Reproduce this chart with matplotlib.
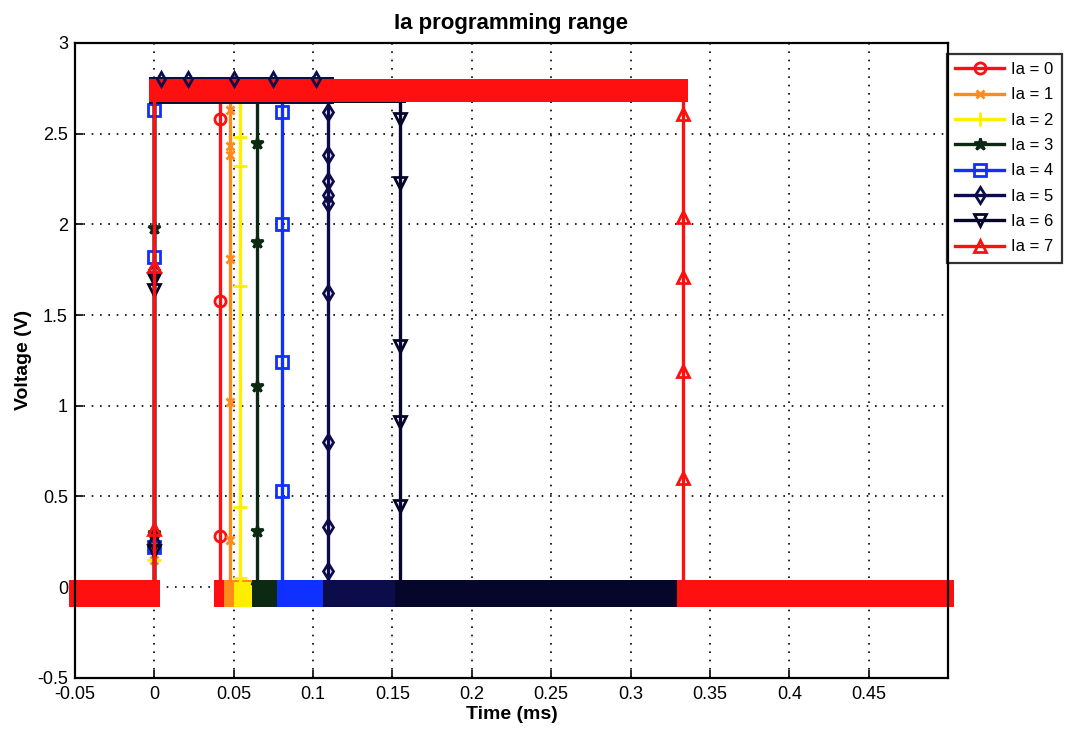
import matplotlib
matplotlib.use("Agg")
import matplotlib.pyplot as plt
import numpy as np

# ---------------- data ----------------
labels = ["Ia = 0", "Ia = 1", "Ia = 2", "Ia = 3", "Ia = 4", "Ia = 5", "Ia = 6", "Ia = 7"]
t_start = -0.05
t_end = 0.5
t_rise = 0.0
t_fall = [0.0413, 0.0475, 0.054, 0.065, 0.0805, 0.1095, 0.155, 0.333]
v_low = -0.035
v_high = 2.735
# noise band extents (V) for the low and high states, per series
low_band_lo = [-0.11, -0.11, -0.11, -0.11, -0.11, -0.11, -0.11, -0.11]
low_band_hi = [0.04, 0.04, 0.03, 0.04, 0.04, 0.04, 0.04, 0.04]
high_band_lo = [2.67, 2.67, 2.67, 2.665, 2.67, 2.665, 2.67, 2.675]
high_band_hi = [2.80, 2.80, 2.80, 2.805, 2.80, 2.81, 2.80, 2.80]
# marker samples on the rising edge (t = 0) and the falling edge
rise_marks = [
    [1.74],
    [0.15],
    [0.15],
    [1.98, 0.30],
    [2.63, 1.82, 0.22],
    [1.75, 0.25],
    [1.70, 1.64, 0.20],
    [1.77, 0.32],
]
fall_marks = [
    [2.58, 1.58, 0.28],
    [2.63, 2.43, 2.38, 1.81, 1.02, 0.26],
    [2.48, 2.32, 1.66, 0.44, 0.05],
    [2.45, 1.90, 1.11, 0.31, 0.01],
    [2.62, 2.00, 1.24, 0.53],
    [2.62, 2.38, 2.24, 2.16, 2.12, 1.62, 0.80, 0.33, 0.09],
    [2.58, 2.23, 1.33, 0.91, 0.45],
    [2.61, 2.04, 1.71, 1.19, 0.60],
]
# a few spikes visible above the high band (series Ia = 5)
spike_t = [0.004, 0.021, 0.05, 0.075, 0.102]
spike_v = [2.80, 2.80, 2.80, 2.80, 2.80]

xticks = [-0.05, 0, 0.05, 0.1, 0.15, 0.2, 0.25, 0.3, 0.35, 0.4, 0.45]
xtick_labels = ["-0.05", "0", "0.05", "0.1", "0.15", "0.2", "0.25", "0.3", "0.35", "0.4", "0.45"]
yticks = [-0.5, 0, 0.5, 1, 1.5, 2, 2.5, 3]
ytick_labels = ["-0.5", "0", "0.5", "1", "1.5", "2", "2.5", "3"]

# ---------------- styles ----------------
colors = ["#ff1010", "#ff8c1a", "#ffee00", "#0c2a12", "#1030ff", "#0c0c4a", "#06062a", "#ff1010"]
markers = ["o", "x", "+", "*", "s", "d", "v", "^"]
msizes = [8, 6, 10, 9, 8, 8, 9, 9]
PAD = 0.0035

plt.rcParams['font.family'] = ['Liberation Sans', 'DejaVu Sans']
fig = plt.figure(figsize=(10.70, 7.34), dpi=100)
ax = fig.add_axes([0.070, 0.0765, 0.816, 0.865])

for i in range(len(labels)):
    c = colors[i]
    z = 2 + i
    tf = t_fall[i]
    # noise bands
    ax.fill_between([t_start - PAD, t_rise + PAD], low_band_lo[i], low_band_hi[i],
                    color=c, lw=0, zorder=z, clip_on=False)
    ax.fill_between([tf - PAD, t_end + PAD], low_band_lo[i], low_band_hi[i],
                    color=c, lw=0, zorder=z, clip_on=False)
    ax.fill_between([t_rise - PAD, tf + PAD], high_band_lo[i], high_band_hi[i],
                    color=c, lw=0, zorder=z)
    # waveform
    t = [t_start, t_rise, t_rise, tf, tf, t_end]
    v = [v_low, v_low, v_high, v_high, v_low, v_low]
    ax.plot(t, v, color=c, lw=2.4, zorder=z)
    # markers on edges
    rm = rise_marks[i]
    fm = fall_marks[i]
    filled = markers[i] == "*"
    ax.plot([t_rise] * len(rm), rm, ls="none", marker=markers[i], ms=msizes[i],
            mfc=c if filled else "none", mec=c, mew=2.0, zorder=z)
    ax.plot([tf] * len(fm), fm, ls="none", marker=markers[i], ms=msizes[i],
            mfc=c if filled else "none", mec=c, mew=2.0, zorder=z)
    if i == 5:
        ax.plot(spike_t, spike_v, ls="none", marker="d", ms=7, mfc="none", mec=c,
                mew=2.0, zorder=2 + len(labels))
    # legend proxy
    ax.plot([], [], color=c, lw=2.4, marker=markers[i], ms=msizes[i],
            mfc=c if filled else "none", mec=c, mew=2.0, label=labels[i])

ax.set_xlim(-0.05, 0.5)
ax.set_ylim(-0.5, 3)
ax.set_xticks(xticks)
ax.set_xticklabels(xtick_labels)
ax.set_yticks(yticks)
ax.set_yticklabels(ytick_labels)
ax.tick_params(direction="in", length=6, width=1.2, labelsize=13, top=False, right=False)
ax.tick_params(axis="x", pad=6)
ax.tick_params(axis="y", pad=5)
ax.grid(True, color="black", ls=(0, (1, 4)), lw=1.2)
for s in ax.spines.values():
    s.set_linewidth(1.6)
    s.set_zorder(20)

ax.set_title("Ia programming range", fontsize=16, fontweight="bold", pad=10)
ax.set_xlabel("Time (ms)", fontsize=14, fontweight="bold", labelpad=2)
ax.set_ylabel("Voltage (V)", fontsize=14, fontweight="bold", labelpad=4)

leg = ax.legend(loc="upper left", bbox_to_anchor=(0.999, 0.983), fontsize=12,
                handlelength=2.9, numpoints=1, frameon=True, fancybox=False,
                borderpad=0.5, labelspacing=0.62, handletextpad=0.45, borderaxespad=0)
leg.get_frame().set_edgecolor("black")
leg.get_frame().set_linewidth(1.6)

fig.savefig("out.png", dpi=100)
